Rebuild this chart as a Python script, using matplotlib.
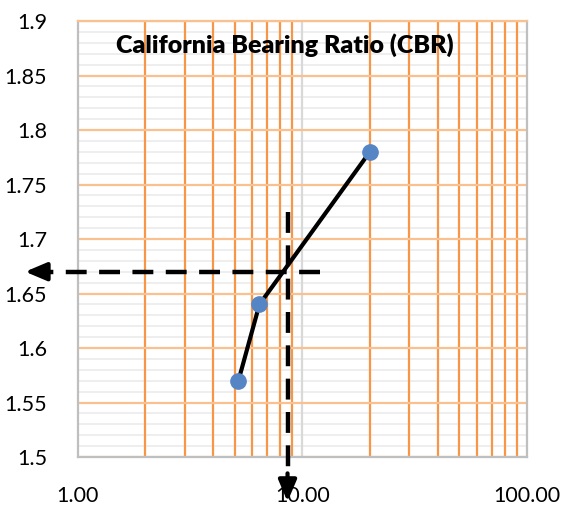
import matplotlib.pyplot as plt
from matplotlib.ticker import FixedLocator, NullFormatter

plt.rcParams["font.family"] = ["Lato", "DejaVu Sans"]

# data
cbr = [5.2, 6.45, 20.0]
density = [1.57, 1.64, 1.78]

# guide lines (design density -> CBR)
target_density = 1.67
target_cbr = 8.6

x_ticks = [1, 10, 100]
x_labels = ["1.00", "10.00", "100.00"]
y_ticks = [1.5, 1.55, 1.6, 1.65, 1.7, 1.75, 1.8, 1.85, 1.9]
y_labels = ["1.5", "1.55", "1.6", "1.65", "1.7", "1.75", "1.8", "1.85", "1.9"]

fig = plt.figure(figsize=(5.63, 5.08), dpi=100)
ax = fig.add_axes([77.5 / 563, 1 - 457 / 508, (527 - 77.5) / 563, (457 - 21) / 508])

ax.set_xscale("log")
ax.set_xlim(1, 100)
ax.set_ylim(1.5, 1.9)

# grid: orange at minor log ticks, gray at decades
minor_x = [m * d for d in (1, 10) for m in range(2, 10)]
for xv in minor_x:
    ax.axvline(xv, color="#F79646", lw=1.6, zorder=1)
ax.axvline(10, color="#D9D9D9", lw=1.6, zorder=1)
for yv in [1.5 + 0.01 * i for i in range(41)]:
    ax.axhline(yv, color="#EBEBEB", lw=1.2, zorder=0)
for yv in y_ticks:
    ax.axhline(yv, color="#FAC090", lw=1.6, zorder=1)

ax.xaxis.set_major_locator(FixedLocator(x_ticks))
ax.set_xticklabels(x_labels)
ax.xaxis.set_minor_locator(FixedLocator(minor_x))
ax.xaxis.set_minor_formatter(NullFormatter())
ax.set_yticks(y_ticks)
ax.set_yticklabels(y_labels)
ax.tick_params(which="both", length=0, labelsize=15.5)
ax.tick_params(axis="x", pad=21)
ax.tick_params(axis="y", pad=22)

for side in ("left", "bottom", "right"):
    ax.spines[side].set_color("#BFBFBF")
    ax.spines[side].set_linewidth(1.6)
ax.spines["top"].set_color("#FAC090")
ax.spines["top"].set_linewidth(1.6)

ax.plot(cbr, density, color="black", lw=3, zorder=3)
ax.plot(cbr, density, "o", color="#5585C5", ms=11, zorder=4)

# dashed guides with arrows
ax.plot([12.0, 0.68], [target_density, target_density], color="black", lw=3.2,
        dashes=(4.7, 2.8), clip_on=False, zorder=5)
ax.plot([target_cbr, target_cbr], [1.725, 1.475], color="black", lw=3.2,
        dashes=(4.7, 2.8), clip_on=False, zorder=5)
head = "-|>,head_length=1.3,head_width=0.55"
ax.annotate("", xy=(0.585, target_density), xytext=(0.72, target_density),
            arrowprops=dict(arrowstyle=head, color="black", lw=3, shrinkA=0, shrinkB=0),
            annotation_clip=False, zorder=6)
ax.annotate("", xy=(target_cbr, 1.459), xytext=(target_cbr, 1.485),
            arrowprops=dict(arrowstyle=head, color="black", lw=3, shrinkA=0, shrinkB=0),
            annotation_clip=False, zorder=6)

ax.text(0.462, 0.945, "California Bearing Ratio (CBR)", transform=ax.transAxes,
        ha="center", va="center", fontsize=18, fontweight="heavy", zorder=7)

fig.savefig("out.png", dpi=100)
